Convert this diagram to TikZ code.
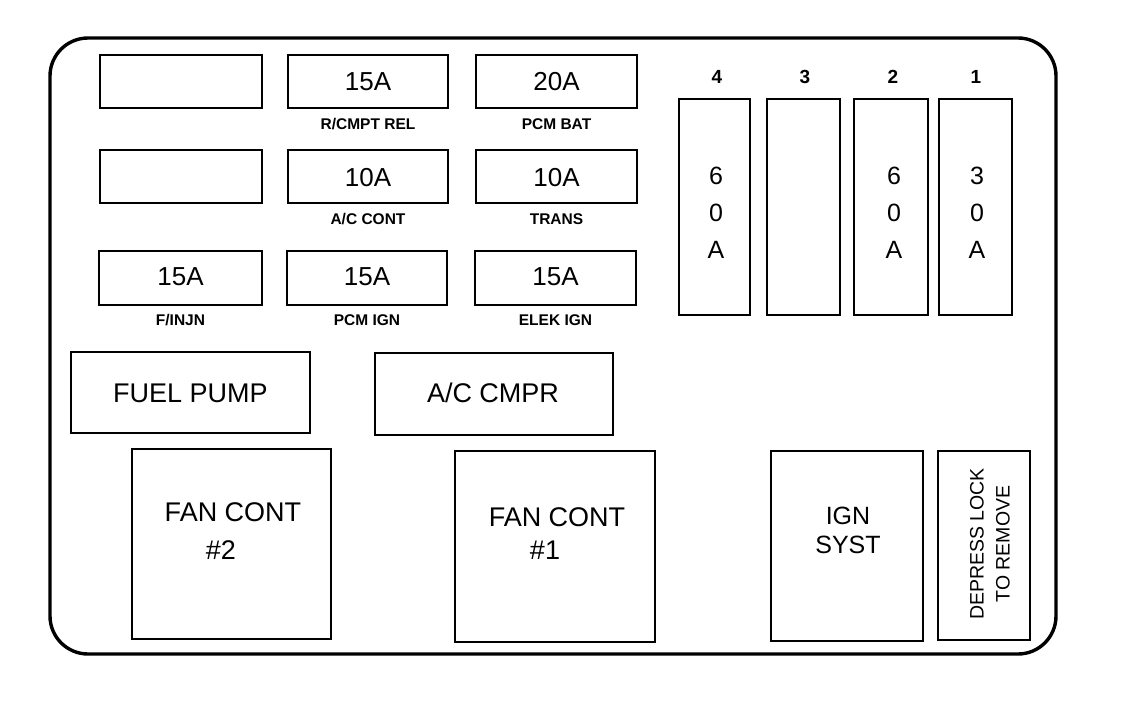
\documentclass[tikz,border=0pt]{standalone}
\usepackage{fontspec}
\setmainfont{Liberation Sans}
\begin{document}
\begin{tikzpicture}[x=1pt,y=-1pt,
  box/.style={draw=black,line width=2.6pt,inner sep=0pt},
  frame/.style={draw=black,line width=3.4pt,rounded corners=38pt,inner sep=0pt},
  big/.style={font=\fontsize{27}{37}\selectfont,align=center,inner sep=0pt},
  amp/.style={font=\fontsize{26}{30}\selectfont,inner sep=0pt},
  small/.style={font=\bfseries\fontsize{15.5}{18}\selectfont,inner sep=0pt},
  num/.style={font=\bfseries\fontsize{19}{22}\selectfont,inner sep=0pt},
  vert/.style={font=\fontsize{25}{37}\selectfont,align=center,inner sep=0pt}]
\fill[white] (0,0) rectangle (1136,712);
\useasboundingbox (0,0) rectangle (1136,712);
\node[frame,minimum width=1006pt,minimum height=616pt] (frame) at (553,346) {};
% row 1
\node[box,minimum width=162pt,minimum height=53pt] (b11) at (181,81.5) {};
\node[box,minimum width=160pt,minimum height=53pt] (b12) at (368,81.5) {};
\node[box,minimum width=161pt,minimum height=53pt] (b13) at (556.5,81.5) {};
\node[amp] (t12) at (368,82) {15A};
\node[amp] (t13) at (556.5,82) {20A};
\node[small] (l12) at (368,124) {R/CMPT REL};
\node[small] (l13) at (556.5,124) {PCM BAT};
% row 2
\node[box,minimum width=162pt,minimum height=53pt] (b21) at (181,176.5) {};
\node[box,minimum width=160pt,minimum height=53pt] (b22) at (368,176.5) {};
\node[box,minimum width=161pt,minimum height=53pt] (b23) at (556.5,176.5) {};
\node[amp] (t22) at (368,178) {10A};
\node[amp] (t23) at (556.5,178) {10A};
\node[small] (l22) at (368,219) {A/C CONT};
\node[small] (l23) at (556.5,219) {TRANS};
% row 3
\node[box,minimum width=163pt,minimum height=54pt] (b31) at (180.5,278) {};
\node[box,minimum width=160pt,minimum height=54pt] (b32) at (367,278) {};
\node[box,minimum width=161pt,minimum height=54pt] (b33) at (555.5,278) {};
\node[amp] (t31) at (180.5,277) {15A};
\node[amp] (t32) at (367,277) {15A};
\node[amp] (t33) at (555.5,277) {15A};
\node[small] (l31) at (180.5,320) {F/INJN};
\node[small] (l32) at (367,320) {PCM IGN};
\node[small] (l33) at (555.5,320) {ELEK IGN};
% vertical fuses
\node[box,minimum width=71pt,minimum height=216pt] (v4) at (714.5,207) {};
\node[box,minimum width=73pt,minimum height=216pt] (v3) at (803.5,207) {};
\node[box,minimum width=74pt,minimum height=216pt] (v2) at (891,207) {};
\node[box,minimum width=73pt,minimum height=216pt] (v1) at (975.5,207) {};
\node[num] (n4) at (717,77) {4};
\node[num] (n3) at (805,77) {3};
\node[num] (n2) at (893,77) {2};
\node[num] (n1) at (976,77) {1};
\node[vert] (tv4) at (716,213) {6\\0\\A};
\node[vert] (tv2) at (894,213) {6\\0\\A};
\node[vert] (tv1) at (977,213) {3\\0\\A};
% relays
\node[box,minimum width=239pt,minimum height=81pt] (fp) at (190.5,392.5) {};
\node[big] (tfp) at (190.5,393) {FUEL PUMP};
\node[box,minimum width=238pt,minimum height=82pt] (ac) at (494,394) {};
\node[big] (tac) at (493,393) {A/C CMPR};
\node[box,minimum width=199pt,minimum height=190pt] (fc2) at (231.5,544) {};
\node[big] (tfc2a) at (233,512) {FAN CONT};
\node[big] (tfc2b) at (221,550) {\#2};
\node[box,minimum width=200pt,minimum height=191pt] (fc1) at (555,546.5) {};
\node[big] (tfc1a) at (557,517) {FAN CONT};
\node[big] (tfc1b) at (545,550) {\#1};
\node[box,minimum width=152pt,minimum height=190pt] (ign) at (847,546) {};
\node[font=\fontsize{25}{29}\selectfont,align=center,inner sep=0pt] (tign) at (848,530) {IGN\\SYST};
\node[box,minimum width=92pt,minimum height=189pt] (dep) at (984,545.5) {};
\node[font=\fontsize{19.5}{26}\selectfont,align=center,inner sep=0pt,rotate=90] (tdep) at (990,544) {DEPRESS LOCK\\TO REMOVE};
\end{tikzpicture}
\end{document}
